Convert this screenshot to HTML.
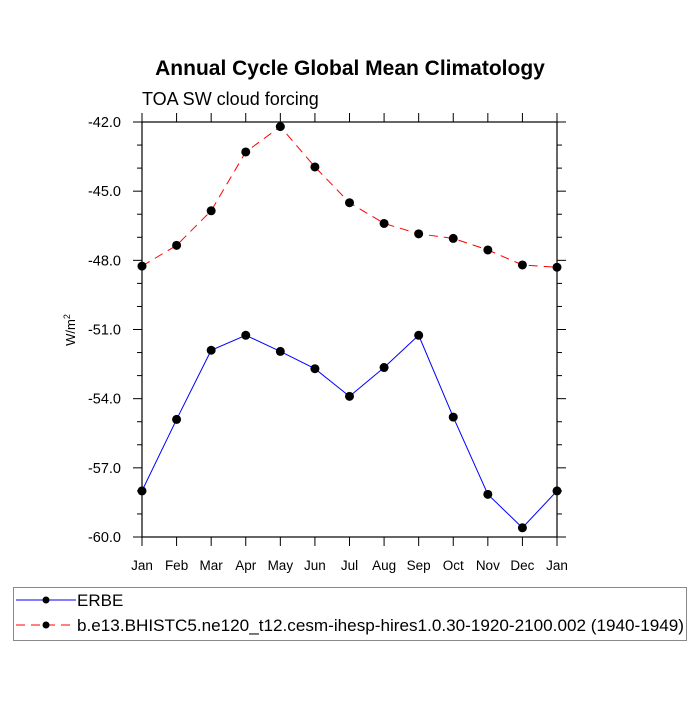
<!DOCTYPE html>
<html><head><meta charset="utf-8"><style>
body{margin:0;background:#fff;}
svg text{font-family:"Liberation Sans",Arial,sans-serif;}
</style></head><body>
<svg id="chart" width="700" height="700" xmlns="http://www.w3.org/2000/svg">
<rect width="700" height="700" fill="#fff"/>
<text x="350" y="75" text-anchor="middle" font-size="21" font-weight="bold">Annual Cycle Global Mean Climatology</text>
<text x="142" y="105" font-size="18">TOA SW cloud forcing</text>
<text transform="translate(75,330) rotate(-90)" text-anchor="middle" font-size="13">W/m<tspan baseline-shift="super" font-size="9">2</tspan></text>
<g id="axes"></g>
<g id="series"></g>
<g>
<rect x="13.5" y="587.5" width="673" height="53" fill="#fff" stroke="#888" stroke-width="1"/>
<g>
<line x1="16" y1="600" x2="76" y2="600" stroke="#00f" stroke-width="1"/>
<circle cx="46" cy="600" r="3.5" fill="#000"/>
<text x="77" y="606" font-size="17">ERBE</text>
</g>
<g>
<line x1="16" y1="625" x2="76" y2="625" stroke="#f00" stroke-width="1" stroke-dasharray="9,6"/>
<circle cx="46" cy="625" r="3.5" fill="#000"/>
<text x="77" y="631" font-size="17" textLength="607" lengthAdjust="spacingAndGlyphs">b.e13.BHISTC5.ne120_t12.cesm-ihesp-hires1.0.30-1920-2100.002 (1940-1949)</text>
</g>
</g>
</svg>
<script>
const months = ["Jan","Feb","Mar","Apr","May","Jun","Jul","Aug","Sep","Oct","Nov","Dec","Jan"];
const erbeValues = [-58.0,-54.9,-51.9,-51.25,-51.95,-52.7,-53.9,-52.65,-51.25,-54.8,-58.15,-59.6,-58.0];
const modelValues = [-48.25,-47.35,-45.85,-43.3,-42.2,-43.95,-45.5,-46.4,-46.85,-47.05,-47.55,-48.2,-48.3];
const yTicks = [-42.0,-45.0,-48.0,-51.0,-54.0,-57.0,-60.0];
const yTickLabels = ["-42.0","-45.0","-48.0","-51.0","-54.0","-57.0","-60.0"];

const X0=142, X1=557, Y0=122, Y1=537, YMAX=-42, YMIN=-60;
const xs = i => X0 + (X1-X0)*i/(months.length-1);
const ys = v => Y0 + (YMAX - v)/(YMAX-YMIN)*(Y1-Y0);
const NS="http://www.w3.org/2000/svg";
function mk(tag, attrs, parent){const e=document.createElementNS(NS,tag);for(const k in attrs)e.setAttribute(k,attrs[k]);parent.appendChild(e);return e;}
const axes=document.getElementById('axes'), series=document.getElementById('series');

const frame=mk('rect',{x:X0,y:Y0,width:X1-X0,height:Y1-Y0,fill:'none',stroke:'#000','stroke-width':1.2},axes);



for(let v=YMIN; v<=YMAX+0.001; v+=1){
  const y=ys(v); const major=Math.abs((v-YMIN)%3)<0.01; const L=major?9:5;
  const t1=mk('line',{x1:X0-L,y1:y,x2:X0,y2:y,stroke:'#000'},axes);
  
  
  const t2=mk('line',{x1:X1,y1:y,x2:X1+L,y2:y,stroke:'#000'},axes);
  
  
}
yTicks.forEach((v,i)=>{
  const t=mk('text',{x:X0-21,y:ys(v)+5,'text-anchor':'end','font-size':14.5},axes);
  t.textContent=yTickLabels[i];
  
  
});
months.forEach((m,i)=>{
  const x=xs(i);
  const a=mk('line',{x1:x,y1:Y1,x2:x,y2:Y1+9,stroke:'#000'},axes);
  
  
  const b=mk('line',{x1:x,y1:Y0-9,x2:x,y2:Y0,stroke:'#000'},axes);
  
  
  const t=mk('text',{x:x,y:Y1+33,'text-anchor':'middle','font-size':13.5},axes);
  t.textContent=m;
  
  
});

function drawSeries(vals,color,dash,name){
  const pts=vals.map((v,i)=>xs(i)+','+ys(v)).join(' ');
  const l=mk('polyline',{points:pts,fill:'none',stroke:color,'stroke-width':1,'stroke-dasharray':dash},series);
  
  
  vals.forEach((v,i)=>{
    const c=mk('circle',{cx:xs(i),cy:ys(v),r:4.5,fill:'#000'},series);
    
    
  });
}
drawSeries(erbeValues,'#00f','none','erbe');
drawSeries(modelValues,'#f00','9,6','model');
</script>
</body></html>
